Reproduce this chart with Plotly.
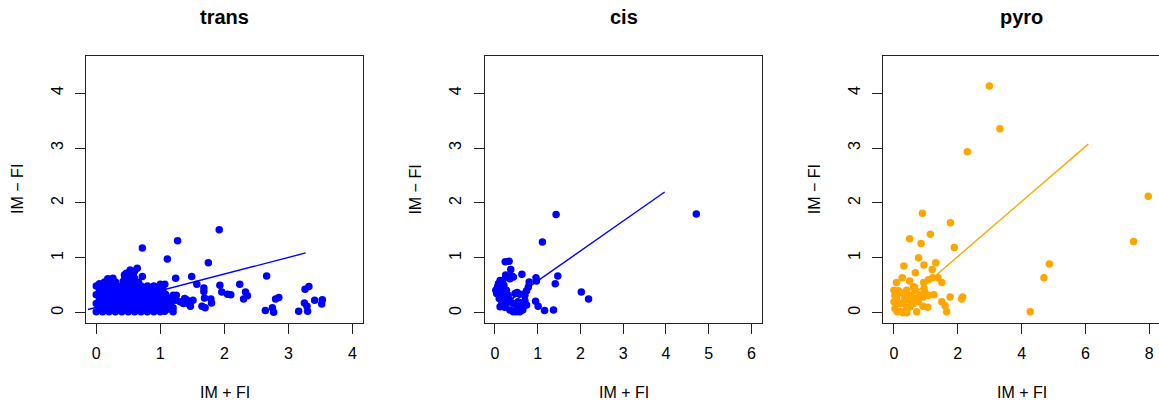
import plotly.graph_objects as go

W, H = 1159, 407

# ---------------- data ----------------
panel_titles = ["trans", "cis", "pyro"]
x_title = "IM + FI"
y_title = "IM \u2212 FI"

trans_pts = [
    # dense cluster
    (0.00, 0.02), (0.10, 0.02), (0.20, 0.02), (0.30, 0.02), (0.40, 0.02), (0.50, 0.02),
    (0.60, 0.02), (0.70, 0.02), (0.80, 0.02), (0.90, 0.02), (1.00, 0.02), (1.07, 0.03),
    (0.05, 0.09), (0.15, 0.09), (0.25, 0.09), (0.35, 0.09), (0.45, 0.09), (0.55, 0.09),
    (0.65, 0.09), (0.75, 0.09), (0.85, 0.09), (0.95, 0.09), (1.04, 0.10), (1.12, 0.08),
    (0.00, 0.17), (0.10, 0.17), (0.20, 0.17), (0.30, 0.17), (0.40, 0.17), (0.50, 0.17),
    (0.60, 0.17), (0.70, 0.17), (0.80, 0.17), (0.90, 0.17), (1.00, 0.17), (1.09, 0.18),
    (1.16, 0.16),
    (0.05, 0.25), (0.15, 0.25), (0.25, 0.25), (0.35, 0.25), (0.45, 0.25), (0.55, 0.25),
    (0.65, 0.25), (0.75, 0.25), (0.85, 0.25), (0.95, 0.25), (1.05, 0.25), (1.12, 0.27),
    (0.00, 0.33), (0.10, 0.33), (0.20, 0.33), (0.30, 0.33), (0.40, 0.33), (0.50, 0.33),
    (0.60, 0.33), (0.70, 0.33), (0.80, 0.33), (0.90, 0.33), (1.00, 0.33), (1.08, 0.34),
    (0.05, 0.41), (0.15, 0.41), (0.25, 0.41), (0.35, 0.41), (0.45, 0.41), (0.55, 0.41),
    (0.65, 0.41), (0.75, 0.41), (0.85, 0.41), (0.95, 0.41), (1.04, 0.42),
    (0.00, 0.49), (0.10, 0.49), (0.20, 0.49), (0.30, 0.49), (0.40, 0.49), (0.50, 0.49),
    (0.60, 0.49), (0.70, 0.49), (0.80, 0.49), (0.90, 0.49), (0.98, 0.47),
    (0.05, 0.53), (0.13, 0.56), (0.22, 0.57), (0.30, 0.56), (0.42, 0.57), (0.50, 0.56),
    (0.58, 0.57), (0.66, 0.55),
    (0.18, 0.62), (0.26, 0.63), (0.45, 0.63), (0.52, 0.64), (0.60, 0.62),
    (0.44, 0.69), (0.50, 0.70), (0.58, 0.68), (0.47, 0.72), (0.60, 0.76),
    # scattered points
    (1.92, 1.51), (1.27, 1.31), (0.72, 1.18), (1.11, 0.98), (1.75, 0.91), (2.66, 0.67),
    (0.64, 0.81), (0.53, 0.78), (0.72, 0.66), (1.24, 0.63), (1.49, 0.66), (1.57, 0.52),
    (1.93, 0.50), (2.24, 0.52), (1.68, 0.45), (1.68, 0.39), (1.96, 0.38), (2.05, 0.34),
    (2.10, 0.33), (2.33, 0.38), (2.36, 0.31), (2.30, 0.25), (1.69, 0.27), (1.79, 0.25),
    (1.80, 0.18), (1.65, 0.12), (1.70, 0.09), (2.64, 0.04), (2.75, 0.09), (2.77, 0.01),
    (2.80, 0.25), (2.85, 0.28), (3.26, 0.43), (3.32, 0.48), (3.25, 0.18), (3.29, 0.12),
    (3.30, 0.03), (3.16, 0.03), (3.41, 0.23), (3.53, 0.24), (3.52, 0.16), (1.41, 0.24),
    (1.36, 0.17), (1.25, 0.32), (1.24, 0.23), (1.20, 0.09), (1.00, 0.52), (1.07, 0.52),
    (1.14, 0.26), (1.31, 0.20), (1.38, 0.26), (1.44, 0.17), (1.51, 0.23), (1.47, 0.12),
    (1.20, 0.02), (1.15, 0.07), (1.20, 0.32),
]

cis_pts = [
    (1.43, 1.79), (4.71, 1.80), (1.11, 1.29), (0.24, 0.93), (0.33, 0.94), (0.37, 0.79),
    (0.63, 0.70), (0.43, 0.65), (0.35, 0.62), (0.25, 0.69), (1.47, 0.67), (0.96, 0.64),
    (0.97, 0.58), (0.80, 0.56), (0.78, 0.47), (0.74, 0.40), (0.70, 0.32), (1.41, 0.53),
    (2.02, 0.38), (2.19, 0.25), (0.95, 0.21), (1.01, 0.12), (1.16, 0.04), (1.37, 0.05),
    (0.12, 0.59), (0.08, 0.53), (0.02, 0.41), (0.04, 0.35), (0.10, 0.26), (0.12, 0.11),
    (0.18, 0.59), (0.21, 0.50), (0.16, 0.44), (0.13, 0.32), (0.23, 0.10), (0.27, 0.17),
    (0.35, 0.23), (0.43, 0.17), (0.51, 0.08), (0.58, 0.02), (0.66, 0.11), (0.74, 0.14),
    (0.43, 0.02), (0.35, 0.05), (0.54, 0.20), (0.62, 0.17), (0.47, 0.35), (0.52, 0.37),
    (0.58, 0.34), (0.31, 0.32), (0.27, 0.41), (0.27, 0.65), (0.39, 0.67), (0.19, 0.26),
    (0.23, 0.20), (0.16, 0.17), (0.06, 0.47), (0.10, 0.40), (0.20, 0.36), (0.50, 0.02),
    (0.65, 0.05), (0.70, 0.22),
]

pyro_pts = [
    (2.99, 4.13), (3.32, 3.35), (2.30, 2.93), (7.97, 2.12), (7.51, 1.30), (4.87, 0.89),
    (4.70, 0.64), (4.27, 0.02), (0.89, 1.81), (1.77, 1.64), (1.14, 1.43), (0.49, 1.35),
    (0.85, 1.26), (1.89, 1.19), (0.77, 1.00), (1.31, 0.91), (0.31, 0.85), (0.94, 0.87),
    (1.20, 0.79), (0.67, 0.73), (0.26, 0.64), (0.08, 0.55), (0.49, 0.58), (0.64, 0.47),
    (0.66, 0.42), (0.93, 0.55), (1.08, 0.60), (1.21, 0.64), (1.38, 0.64), (1.50, 0.55),
    (0.94, 0.44), (0.96, 0.38), (1.25, 0.33), (1.08, 0.32), (0.92, 0.29), (1.76, 0.29),
    (2.15, 0.29), (2.12, 0.25), (1.50, 0.20), (1.60, 0.13), (1.65, 0.02), (0.91, 0.12),
    (1.06, 0.10), (0.71, 0.02),
    (0.00, 0.41), (0.14, 0.40), (0.24, 0.36), (0.03, 0.32), (0.00, 0.20), (0.03, 0.08),
    (0.19, 0.03), (0.29, 0.00), (0.40, 0.06), (0.50, 0.11), (0.61, 0.17), (0.50, 0.23),
    (0.34, 0.26), (0.45, 0.32), (0.55, 0.32), (0.71, 0.26), (0.76, 0.20), (0.19, 0.17),
    (0.29, 0.17), (0.08, 0.26), (0.40, 0.41), (0.61, 0.47), (0.10, 0.02), (0.40, 0.00),
    (0.81, 0.33),
]

# fitted lines: (start, end)
trans_line = [(-0.13, 0.06), (3.27, 1.09)]
cis_line = [(0.30, 0.20), (3.97, 2.20)]
pyro_line = [(0.30, 0.175), (6.09, 3.07)]

x_ticks = [[0, 1, 2, 3, 4], [0, 1, 2, 3, 4, 5, 6], [0, 2, 4, 6, 8]]
y_ticks = [0, 1, 2, 3, 4]

colors = ["#0000FF", "#0000FF", "#FFA500"]

# ---------------- layout geometry (pixels) ----------------
box_left = [86.0, 484.7, 883.3]
box_right = [362.7, 761.7, 1159.0]
box_top, box_bottom = 55.7, 322.7
x_ranges = [[-0.16, 4.16], [-0.24, 6.24], [-0.335, 8.307]]
y_range = [-0.18, 4.68]

FONT = "Liberation Sans, Arial, Helvetica, sans-serif"

fig = go.Figure()
datasets = [trans_pts, cis_pts, pyro_pts]
lines = [trans_line, cis_line, pyro_line]

for i in range(3):
    xa = "x" if i == 0 else f"x{i+1}"
    ya = "y" if i == 0 else f"y{i+1}"
    pts = datasets[i]
    fig.add_trace(go.Scatter(
        x=[p[0] for p in pts], y=[p[1] for p in pts], mode="markers",
        marker=dict(color=colors[i], size=7.5, line=dict(width=0)),
        xaxis=xa, yaxis=ya, showlegend=False, hoverinfo="skip"))
    ln = lines[i]
    fig.add_trace(go.Scatter(
        x=[p[0] for p in ln], y=[p[1] for p in ln], mode="lines",
        line=dict(color=colors[i], width=1.4),
        xaxis=xa, yaxis=ya, showlegend=False, hoverinfo="skip"))

layout = dict(
    width=W, height=H, autosize=False,
    margin=dict(l=0, r=0, t=0, b=0, pad=0),
    paper_bgcolor="white", plot_bgcolor="white",
    font=dict(family=FONT, size=16, color="black"),
    showlegend=False,
)

ydom = [1 - box_bottom / H, 1 - box_top / H]
annotations = []
for i in range(3):
    xk = "xaxis" if i == 0 else f"xaxis{i+1}"
    yk = "yaxis" if i == 0 else f"yaxis{i+1}"
    ya_name = "y" if i == 0 else f"y{i+1}"
    xa_name = "x" if i == 0 else f"x{i+1}"
    xdom = [box_left[i] / W, min(1.0, box_right[i] / W)]
    layout[xk] = dict(
        domain=xdom, range=x_ranges[i], anchor=ya_name,
        tickvals=x_ticks[i], ticktext=[str(v) for v in x_ticks[i]],
        ticks="outside", ticklen=10, tickwidth=1, tickcolor="#222",
        showline=True, linecolor="#222", linewidth=1.2, mirror=True,
        showgrid=False, zeroline=False, fixedrange=True,
        tickfont=dict(family=FONT, size=16, color="black"),
        ticklabelstandoff=6,
    )
    layout[yk] = dict(
        domain=ydom, range=y_range, anchor=xa_name,
        tickvals=y_ticks, ticktext=[str(v) for v in y_ticks],
        ticks="outside", ticklen=10, tickwidth=1, tickcolor="#222",
        showline=True, linecolor="#222", linewidth=1.2,
        mirror=(i < 2),
        showgrid=False, zeroline=False, fixedrange=True,
        tickangle=-90,
        tickfont=dict(family=FONT, size=16, color="black"),
        ticklabelstandoff=6,
    )
    cx = (box_left[i] + min(box_right[i] + 1, 1160)) / 2 / W
    annotations.append(dict(
        text=f"<b>{panel_titles[i]}</b>", xref="paper", yref="paper",
        x=cx, y=1 - 17 / H, xanchor="center", yanchor="middle",
        showarrow=False, font=dict(family=FONT, size=20, color="black")))
    annotations.append(dict(
        text=x_title, xref="paper", yref="paper",
        x=cx, y=1 - 392.7 / H, xanchor="center", yanchor="middle",
        showarrow=False, font=dict(family=FONT, size=16, color="black")))
    annotations.append(dict(
        text=y_title, xref="paper", yref="paper", textangle=-90,
        x=(box_left[i] - 69.3) / W, y=1 - 189.2 / H,
        xanchor="center", yanchor="middle",
        showarrow=False, font=dict(family=FONT, size=16, color="black")))

layout["annotations"] = annotations
fig.update_layout(**layout)

fig.write_html("out.html")
